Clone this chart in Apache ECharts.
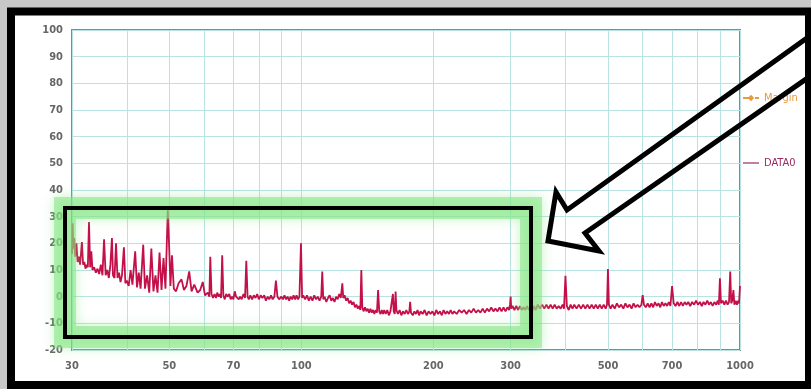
<!DOCTYPE html>
<html><head><meta charset="utf-8">
<script src="https://cdn.jsdelivr.net/npm/echarts@6/dist/echarts.min.js"></script>
<style>html,body{margin:0;padding:0;background:#fff}#c{width:811px;height:389px}</style>
</head><body><div id="c"></div>
<script>
// frequency (MHz) / level (dB) pairs
const lowBand = [
 [30.0,16],[30.1,27.5],[30.2,18],[30.35,22],[30.5,15],[30.7,20],[30.9,13],[31.1,15],[31.3,12],[31.6,20.5],
 [31.8,12],[32.0,13],[32.2,10.5],[32.4,12],[32.6,11],[32.8,28],[33.0,11],[33.2,17],[33.4,10],[33.7,11],
 [34.0,9],[34.3,10.5],[34.6,8.5],[34.9,12],[35.2,8],[35.5,21.5],[35.8,8],[36.1,10],[36.4,7],[36.7,12],
 [37.0,22],[37.2,8],[37.5,7],[37.8,20],[38.1,7],[38.4,9],[38.7,5.5],[39.0,8],[39.4,18.5],[39.7,5],
 [40.0,6],[40.4,4],[40.8,10],[41.2,4.5],[41.8,17],[42.2,3.5],[42.6,9],[43.0,3],[43.6,19.5],[44.0,3],
 [44.5,8],[45.0,1.5],[45.5,18],[46.0,2],[46.5,8],[47.0,1.5],[47.5,16.5],[48.0,2.5],[48.5,14.5],[49.0,3],
 [49.6,32.5],[50.0,17],[50.3,4],[50.7,15.5],[51.2,3],[51.8,2],[52.5,5],[53.3,6.5],[54.0,2.5],[54.7,4],
 [55.5,9.5],[56.2,2],[57.0,4.5],[58.0,1.5],[58.8,2.5],[59.6,5.5],[60.3,0.5],[61.2,1.5],[61.7,0],[62.0,15],
 [62.4,1],[62.9,-0.5],[63.4,1],[63.9,-0.5],[64.3,1.5],[64.8,0],[65.2,1],[65.6,-0.5],[66.0,15.5],[66.4,0.5],
 [66.9,-1],[67.4,1],[67.9,0],[68.5,1],[69.0,-1],[69.5,0],[70.0,-1],[70.5,2],[71.0,0],[71.5,0.5],
 [72.0,-1],[72.5,0],[73.1,-1],[73.8,1],[74.4,-0.5],[74.9,13.5],[75.4,0],[75.9,-1],[76.5,0.5],[77.2,-1],
 [77.9,0.5],[78.6,-0.5],[79.3,1],[80,-1],[80.8,0.5],[81.5,-0.5],[82.3,0.5],[83,-1.5],[83.8,0],[84.5,-1],
 [85.3,0.5],[86,-1],[86.8,0],[87.5,6],[88.2,0],[89,-1],[90,0],[90.8,-1],[91.5,0.5],[92.3,-1],
 [93,0],[93.8,-1.5],[94.5,0],[95.3,-1],[96,0.5],[96.8,-1],[97.5,0.5],[98.3,-1],[99,0],[99.8,20],[100.4,-0.5]
];
const midBand = [
 [101,0.5],[102,-1],[103,0.5],[104,-1.5],[105,0],[106,-1.5],[107,0.5],[108,-1],[109,0],[110,-1.5],
 [111,0],[111.6,9.4],[112.2,-1],[113,0],[114,-2],[115,-0.5],[116,0.5],[117,-1.5],[118,-0.5],[119,-2],
 [120,0],[121,-1],[122,1],[123,-0.5],[124,5],[124.6,-0.5],[125.5,0.5],[126.5,-1.5],[127.5,-0.5],[128.5,-2.5],
 [129.5,-1.5],[130.5,-3],[131.5,-2],[132.5,-4],[133.5,-3],[134.5,-4.5],[135.5,-3.5],[136.3,-5],[137,10],[137.7,-4],
 [138.7,-5.5],[139.7,-4],[140.7,-5.5],[141.7,-4.5],[142.7,-6],[143.7,-4.5],[144.7,-6],[145.7,-5],[146.7,-6.5],[147.7,-5],
 [148.7,-6],[149.6,2.5],[150.5,-5.5],[151.5,-6.5],[152.5,-5],[153.5,-6.5],[154.5,-5],[155.7,-6.5],[157,-5],[158.3,-7],
 [159.6,-5.5],[161,-6],[161.7,1],[162.4,-5.5],[163.3,-6.5],[164,1.9],[164.7,-5],[166,-6.5],[167.5,-5],[169,-7],
 [170.5,-5.5],[172,-6.5],[173.5,-5],[175,-6.5],[176.3,-5.5],[177,-1.9],[177.8,-6],[179.5,-7],[181,-5.5],[182.5,-6.5],
 [184,-5],[185.5,-7],[187,-5.5],[189,-6.5],[191,-5],[193,-7],[195,-5.5],[197,-6.5],[199,-5.5],[201,-7],
 [203,-5],[205,-6.5],[207,-5.5],[209,-7],[211,-5],[213,-6.5],[215,-5.5],[217,-6.5],[219,-5],[221,-6.5],
 [223,-5.5],[226,-6.5],[229,-5],[232,-6],[235,-5],[238,-6.5],[241,-5],[244,-6],[247,-4.5],[250,-6],
 [253,-5],[256,-6],[259,-4.5],[262,-6],[265,-4.5],[268,-5.5],[271,-4],[274,-5.5],[277,-4.5],[280,-5.5],
 [283,-4],[286,-5.5],[289,-4],[292,-5.5],[295,-4],[297.5,-5],[299,-3],[300,0],[301,-4.5],[303,-3.5]
];
const highBand = [
 [306,-5],[309,-3.5],[312,-5],[315,-3.5],[318,-5],[321,-4],[324,-5],[327,-3.5],[330,-5],[333,-4],
 [336,-5.5],[339,-3.5],[342,-5],[346,-3],[350,-4.5],[354,-3],[358,-4.5],[362,-3],[366,-4.5],[370,-3],
 [374,-4.5],[378,-3],[382,-4.5],[386,-3.5],[390,-4.5],[394,-3],[397,-4.5],[400,7.8],[403,-3.5],[407,-5],
 [411,-3],[415,-4.5],[419,-3],[424,-4.5],[429,-3],[434,-4.5],[439,-3],[444,-4.5],[449,-3],[454,-4.5],
 [459,-3],[464,-4.5],[469,-3],[474,-4.5],[479,-3],[484,-4.5],[489,-3],[494,-4.5],[497.5,-3],[500,10.4],
 [502.5,-3],[507,-4.5],[512,-3],[518,-4.5],[524,-2.5],[530,-4],[536,-3],[542,-4.5],[548,-2.5],[554,-4],
 [560,-3],[566,-4.5],[572,-2.5],[578,-4],[584,-3],[590,-4],[596,-3],[600,0.6],[604,-3],[610,-4],
 [616,-2.5],[622,-4],[628,-2.5],[634,-4],[640,-2],[646,-3.5],[652,-2.5],[658,-4],[664,-2],[670,-3.5],
 [676,-2.5],[682,-3.5],[688,-2],[694,-3.5],[700,4],[706,-2.5],[713,-3.5],[720,-2],[727,-3.5],[734,-2],
 [741,-3.5],[748,-2],[755,-3],[762,-2],[770,-3.5],[778,-2],[786,-3],[794,-1.5],[802,-3],[810,-2],
 [818,-3.5],[826,-2],[834,-3],[842,-1.5],[850,-3],[858,-2],[866,-3.5],[874,-2],[882,-3],[890,-1.5],
 [895,-3],[900,6.9],[905,-2.5],[913,-1.5],[921,-3],[929,-1.5],[937,-3],[944,-2],[950,9.4],[955,-2.5],
 [960,-1.5],[966,2.5],[971,-3],[978,-1.5],[984,-3],[990,-1.5],[995,-2.5],[1000,4]
];
const gridFreqs = [30,40,50,60,70,80,90,100,200,300,400,500,600,700,800,900,1000];
const labelFreqs = [30,50,70,100,200,300,500,700,1000];
const seriesNames = ['Margin','DATA0'];

const chart = echarts.init(document.getElementById('c'), null, {renderer:'canvas'});
const lblFont = {fontFamily:'DejaVu Sans Condensed', fontWeight:'bold', fontSize:11, color:'#666'};
chart.setOption({
  backgroundColor:'#ffffff',
  animation:false,
  grid:{left:72, right:71, top:30, bottom:39, show:true, borderColor:'#888', borderWidth:2, backgroundColor:'transparent'},
  xAxis:{type:'log', logBase:10, min:30, max:1000,
    axisLine:{show:false},
    axisTick:{show:false, customValues:gridFreqs},
    axisLabel:Object.assign({customValues:labelFreqs, margin:11, formatter:v=>String(Math.round(v))}, lblFont),
    splitLine:{show:true, lineStyle:{color:'#b9e3e3', width:1}}
  },
  yAxis:{type:'value', min:-20, max:100, interval:10,
    axisLine:{show:false}, axisTick:{show:false},
    axisLabel:Object.assign({margin:9}, lblFont),
    splitLine:{show:true, lineStyle:{color:'#b9e3e3', width:1}}
  },
  legend:{orient:'vertical', left:742, top:91, itemGap:51, itemWidth:16, itemHeight:8, padding:0,
    data:[{name:seriesNames[0], textStyle:{color:'#e89a40'}},
          {name:seriesNames[1], icon:'path://M0,0L20,0L20,1.5L0,1.5Z', textStyle:{color:'#9a2a62'}}],
    textStyle:{fontFamily:'DejaVu Sans Condensed', fontSize:11, lineHeight:14}
  },
  series:[
    {name:seriesNames[0], type:'line', data:[], symbol:'diamond', symbolSize:6,
     itemStyle:{color:'#e89a40'}, lineStyle:{color:'#e89a40', type:'dashed', width:1.5}},
    {name:seriesNames[1], type:'line', data:lowBand.concat(midBand, highBand), symbol:'none',
     itemStyle:{color:'#9a2a62'}, lineStyle:{color:'#c41048', width:1.8}}
  ],
  graphic:[
    {type:'rect', z:100, shape:{x:0,y:0,width:811,height:8}, style:{fill:'#c8c8c8'}},
    {type:'rect', z:100, shape:{x:0,y:0,width:7,height:389}, style:{fill:'#c8c8c8'}},
    {type:'rect', z:101, shape:{x:11,y:11.5,width:798,height:373.5}, style:{fill:null, stroke:'#000', lineWidth:8}},
    {type:'rect', z:102, shape:{x:65,y:208,width:466,height:129},
      style:{fill:null, stroke:'rgba(130,230,130,0.55)', lineWidth:22, shadowBlur:12, shadowColor:'rgba(130,230,130,0.8)'}},
    {type:'rect', z:103, shape:{x:65,y:208,width:466,height:129}, style:{fill:null, stroke:'#000', lineWidth:4}},
    {type:'polyline', z:104, shape:{points:[[832,20],[567,210],[556,192],[548,241],[599,251],[585,233],[832,61]]},
      style:{fill:null, stroke:'#000', lineWidth:5, lineJoin:'miter'}}
  ]
});
</script></body></html>
